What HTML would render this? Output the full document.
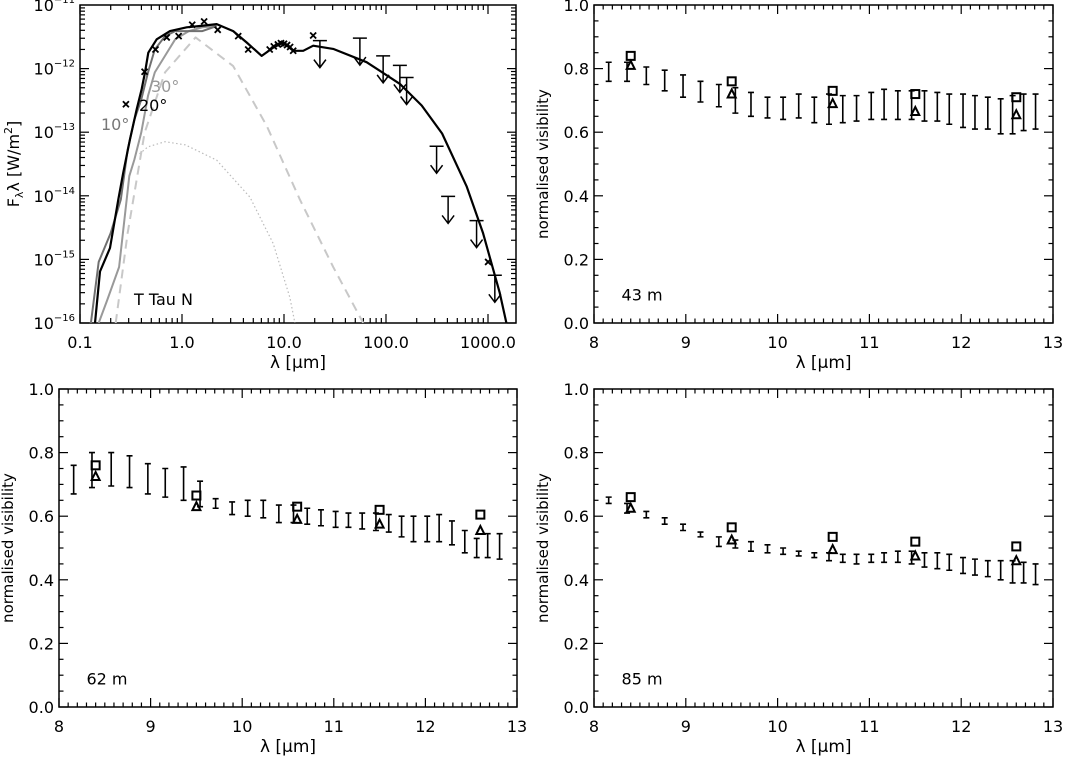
<!DOCTYPE html>
<html><head><meta charset="utf-8">
<style>
html,body{margin:0;padding:0;background:#fff;}
svg{display:block;font-family:"DejaVu Sans","Liberation Sans",sans-serif;}
</style></head>
<body>
<svg id="fig" width="1069" height="758" viewBox="0 0 1069 758" xmlns="http://www.w3.org/2000/svg"></svg>
<script>
// ---------- SED panel data (log10 lambda [um], log10 F [W/m2]) ----------
const sedBlackLogLam = [-0.853,-0.804,-0.706,-0.625,-0.576,-0.51,-0.444,-0.395,-0.363,-0.33,-0.248,-0.118,0.046,0.176,0.34,0.502,0.634,0.781,0.894,0.992,1.09,1.188,1.286,1.482,1.81,2.136,2.35,2.55,2.79,2.952,3.116,3.18];
const sedBlackLogF   = [-16.0,-15.19,-14.82,-14.06,-13.64,-13.11,-12.64,-12.32,-12.06,-11.75,-11.54,-11.41,-11.35,-11.33,-11.30,-11.41,-11.59,-11.80,-11.67,-11.59,-11.72,-11.72,-11.64,-11.69,-11.90,-12.24,-12.58,-13.02,-13.85,-14.59,-15.53,-16.0];
const sed10LogLam = [-0.893,-0.817,-0.70,-0.60,-0.533,-0.467,-0.40,-0.333,-0.267,-0.167,-0.067,0.067,0.20,0.34];
const sed10LogF   = [-16.0,-15.04,-14.59,-14.06,-13.28,-12.80,-12.49,-12.06,-11.70,-11.49,-11.41,-11.41,-11.41,-11.33];
const sed30LogLam = [-0.817,-0.733,-0.617,-0.517,-0.467,-0.40,-0.333,-0.267,-0.167,-0.067,0.067,0.20,0.34];
const sed30LogF   = [-16.0,-15.64,-15.12,-13.69,-13.43,-13.01,-12.43,-12.06,-11.80,-11.54,-11.41,-11.35,-11.33];
const sedDashLogLam = [-0.65,-0.533,-0.367,-0.167,0.133,0.502,0.83,1.156,1.482,1.776];
const sedDashLogF   = [-16.0,-14.59,-13.01,-12.06,-11.51,-11.96,-12.90,-14.06,-15.12,-16.0];
const sedDotLogLam = [-0.417,-0.333,-0.167,0.033,0.34,0.666,0.894,1.058,1.107];
const sedDotLogF   = [-13.34,-13.23,-13.15,-13.20,-13.44,-14.02,-14.75,-15.60,-16.0];
const photLogLam = [-0.55,-0.367,-0.26,-0.15,-0.033,0.10,0.217,0.35,0.551,0.649,1.286,3.001,0.86,0.9,0.94,0.97,1.0,1.03,1.06,1.09];
const photLogF   = [-12.56,-12.05,-11.70,-11.51,-11.49,-11.31,-11.26,-11.39,-11.49,-11.70,-11.48,-15.04,-11.70,-11.65,-11.62,-11.60,-11.61,-11.63,-11.66,-11.72];
const ulLogLam = [1.352,1.744,1.972,2.136,2.202,2.496,2.609,2.888,3.067];
const ulLogF   = [-11.56,-11.52,-11.80,-11.95,-12.14,-13.22,-14.01,-14.39,-15.25];
const sedXTicks = ["0.1","1.0","10.0","100.0","1000.0"];
const sedYTicks = [-11,-12,-13,-14,-15,-16];

// ---------- visibility data ----------
const visLam = [8.16,8.36,8.57,8.77,8.97,9.16,9.36,9.54,9.71,9.89,10.06,10.23,10.40,10.56,10.71,10.86,11.02,11.16,11.31,11.46,11.60,11.74,11.87,12.02,12.15,12.29,12.43,12.56,12.68,12.81];
const v43Hi = [0.82,0.82,0.805,0.795,0.78,0.76,0.75,0.74,0.725,0.71,0.71,0.72,0.71,0.72,0.715,0.715,0.725,0.735,0.73,0.73,0.73,0.725,0.72,0.72,0.715,0.71,0.705,0.715,0.72,0.72];
const v43Lo = [0.76,0.76,0.75,0.73,0.71,0.695,0.68,0.66,0.65,0.645,0.64,0.645,0.63,0.625,0.63,0.635,0.64,0.64,0.64,0.64,0.635,0.635,0.625,0.615,0.61,0.61,0.595,0.595,0.605,0.61];
const v62Hi = [0.76,0.80,0.80,0.79,0.765,0.75,0.755,0.71,0.655,0.645,0.65,0.65,0.635,0.635,0.625,0.62,0.615,0.61,0.61,0.61,0.605,0.60,0.60,0.60,0.605,0.585,0.555,0.53,0.545,0.545];
const v62Lo = [0.67,0.69,0.695,0.69,0.67,0.66,0.65,0.63,0.625,0.605,0.60,0.595,0.58,0.58,0.575,0.57,0.565,0.565,0.56,0.555,0.55,0.535,0.52,0.52,0.52,0.51,0.485,0.47,0.47,0.465];
const v85Hi = [0.66,0.64,0.615,0.595,0.575,0.55,0.535,0.525,0.52,0.51,0.50,0.49,0.485,0.485,0.48,0.48,0.48,0.485,0.49,0.49,0.485,0.485,0.48,0.47,0.465,0.46,0.46,0.46,0.455,0.45];
const v85Lo = [0.64,0.61,0.595,0.575,0.555,0.535,0.505,0.50,0.49,0.485,0.48,0.475,0.47,0.46,0.455,0.45,0.455,0.455,0.455,0.45,0.44,0.435,0.43,0.42,0.415,0.41,0.40,0.39,0.39,0.385];
const modelLam = [8.4,9.5,10.6,11.5,12.6];
const sq43 = [0.84,0.76,0.73,0.72,0.71];
const tr43 = [0.81,0.72,0.69,0.665,0.655];
const sq62 = [0.76,0.665,0.63,0.62,0.605];
const tr62 = [0.725,0.63,0.59,0.575,0.555];
const sq85 = [0.66,0.565,0.535,0.52,0.505];
const tr85 = [0.625,0.525,0.495,0.475,0.46];
const visXTicks = [8,9,10,11,12,13];
const visYTicks = ["0.0","0.2","0.4","0.6","0.8","1.0"];

const NS="http://www.w3.org/2000/svg";
const svg=document.getElementById('fig');
function mk(tag,attrs,parent,txt){const e=document.createElementNS(NS,tag);for(const k in attrs)e.setAttribute(k,attrs[k]);if(txt!==undefined)e.textContent=txt;(parent||svg).appendChild(e);return e;}
function grp(name,parent){const g=mk('g',{},parent);return g;}
const FS=16;

// ---------- SED panel ----------
(function(){
  const L=80,R=516,T=5,B=323;
  const sx=l=>L+(l+1)*102;
  const sy=f=>T+(-11-f)*63.6;
  const g=grp('sed-panel');
  const frame=mk('rect',{x:L,y:T,width:R-L,height:B-T,fill:'none',stroke:'#000','stroke-width':1.5},g);
  
  
  const tk=grp('sed-ticks',g);
  for(let d=-1;d<=3;d++){
    for(let m=1;m<=9;m++){
      const l=d+Math.log10(m); if(l>3.27)continue;
      const x=sx(l),len=m===1?9:5;
      mk('line',{x1:x,y1:B,x2:x,y2:B-len,stroke:'#000','stroke-width':1.2},tk);
      mk('line',{x1:x,y1:T,x2:x,y2:T+len,stroke:'#000','stroke-width':1.2},tk);
    }
  }
  sedXTicks.forEach((s,i)=>{const t=mk('text',{x:sx(i-1),y:B+25,'font-size':FS,'text-anchor':'middle'},g,s);});
  for(let d=-16;d<-11;d++){
    for(let m=1;m<=9;m++){
      const f=d+Math.log10(m),y=sy(f),len=m===1?9:5;
      mk('line',{x1:L,y1:y,x2:L+len,y2:y,stroke:'#000','stroke-width':1.2},tk);
      mk('line',{x1:R,y1:y,x2:R-len,y2:y,stroke:'#000','stroke-width':1.2},tk);
    }
  }
  sedYTicks.forEach(v=>{
    const t=mk('text',{x:L-5,y:sy(v)+6,'font-size':FS,'text-anchor':'end'},g);
    
    
    mk('tspan',{},t,'10');
    mk('tspan',{dy:-8,'font-size':10},t,'\u2212'+(-v));
  });
  const xt=mk('text',{x:(L+R)/2,y:B+45,'font-size':17,'text-anchor':'middle'},g,'\u03bb  [\u03bcm]');
  
  const yt=mk('text',{x:0,y:0,'font-size':16,'text-anchor':'middle',transform:`translate(19,${(T+B)/2}) rotate(-90)`},g);
  
  mk('tspan',{},yt,'F');mk('tspan',{dy:4,'font-size':11},yt,'\u03bb');mk('tspan',{dy:-4},yt,'\u03bb  [W/m');mk('tspan',{dy:-7,'font-size':11},yt,'2');mk('tspan',{dy:7},yt,']');
  const cp=mk('clipPath',{id:'sedclip'},g);mk('rect',{x:L,y:T,width:R-L,height:B-T},cp);
  function curve(name,lx,ly,attrs){const p=mk('path',Object.assign({d:lx.map((l,i)=>(i?'L':'M')+sx(l).toFixed(1)+','+sy(ly[i]).toFixed(1)).join(''),fill:'none','clip-path':'url(#sedclip)','stroke-linejoin':'round'},attrs),g);}
  curve('stellar-dotted-curve',sedDotLogLam,sedDotLogF,{stroke:'#bbb','stroke-width':1.2,'stroke-dasharray':'1.5,2.5'});
  curve('dashed-curve',sedDashLogLam,sedDashLogF,{stroke:'#c8c8c8','stroke-width':2,'stroke-dasharray':'9,6'});
  curve('model-30deg-curve',sed30LogLam,sed30LogF,{stroke:'#999','stroke-width':2});
  curve('model-10deg-curve',sed10LogLam,sed10LogF,{stroke:'#707070','stroke-width':2});
  curve('model-20deg-curve',sedBlackLogLam,sedBlackLogF,{stroke:'#000','stroke-width':2.2});
  const ph=grp('photometry-points',g);
  photLogLam.forEach((l,i)=>{const x=sx(l),y=sy(photLogF[i]);
    mk('path',{d:`M${x-3},${y-3}L${x+3},${y+3}M${x-3},${y+3}L${x+3},${y-3}`,stroke:'#000','stroke-width':1.8,fill:'none'},ph);});
  const ul=grp('upper-limits',g);
  ulLogLam.forEach((l,i)=>{const x=sx(l),y=sy(ulLogF[i]);
    mk('path',{d:`M${x-7},${y}L${x+7},${y}M${x},${y}L${x},${y+27}M${x-6},${y+19}L${x},${y+27}L${x+6},${y+19}`,stroke:'#000','stroke-width':1.5,fill:'none'},ul);});
  function lab(name,x,y,s,c){const t=mk('text',{x:x,y:y,'font-size':16,fill:c},g,s);}
  lab('label-10deg',101,130,'10\u00b0','#777');
  lab('label-30deg',151,92,'30\u00b0','#999');
  lab('label-20deg',139,111,'20\u00b0','#000');
  lab('panel-label-ttau',134,305,'T Tau N','#000');
})();

// ---------- visibility panels ----------
function visPanel(name,L,R,T,B,hi,lo,sq,tr,label){
  const g=grp(name);
  const sx=v=>L+(v-8)/5*(R-L);
  const sy=v=>B-v*(B-T);
  const fr=mk('rect',{x:L,y:T,width:R-L,height:B-T,fill:'none',stroke:'#000','stroke-width':1.5},g);
  
  const tk=grp(name+'-ticks',g);
  for(let i=0;i<=50;i++){const x=L+i*(R-L)/50,len=i%10===0?9:4.5;
    mk('line',{x1:x,y1:B,x2:x,y2:B-len,stroke:'#000','stroke-width':1.2},tk);
    mk('line',{x1:x,y1:T,x2:x,y2:T+len,stroke:'#000','stroke-width':1.2},tk);}
  for(let i=0;i<=20;i++){const y=B-i*(B-T)/20,len=i%4===0?9:4.5;
    mk('line',{x1:L,y1:y,x2:L+len,y2:y,stroke:'#000','stroke-width':1.2},tk);
    mk('line',{x1:R,y1:y,x2:R-len,y2:y,stroke:'#000','stroke-width':1.2},tk);}
  visXTicks.forEach(v=>{const t=mk('text',{x:sx(v),y:B+25,'font-size':FS,'text-anchor':'middle'},g,String(v));});
  visYTicks.forEach(s=>{const t=mk('text',{x:L-5,y:sy(parseFloat(s))+6,'font-size':FS,'text-anchor':'end'},g,s);});
  const xt=mk('text',{x:(L+R)/2,y:B+45,'font-size':17,'text-anchor':'middle'},g,'\u03bb [\u03bcm]');
  
  const yt=mk('text',{x:0,y:0,'font-size':15,'text-anchor':'middle',transform:`translate(${L-46},${(T+B)/2}) rotate(-90)`},g,'normalised visibility');
  
  const eb=grp('error-bars',g);
  visLam.forEach((v,i)=>{const x=sx(v),y1=sy(hi[i]),y2=sy(lo[i]);
    mk('path',{d:`M${x},${y1}L${x},${y2}M${x-3},${y1}L${x+3},${y1}M${x-3},${y2}L${x+3},${y2}`,stroke:'#000','stroke-width':1.6,fill:'none'},eb);});
  const sg=grp('model-squares',g);
  modelLam.forEach((v,i)=>{mk('rect',{x:sx(v)-4,y:sy(sq[i])-4,width:8,height:8,fill:'none',stroke:'#000','stroke-width':2},sg);});
  const tg=grp('model-triangles',g);
  modelLam.forEach((v,i)=>{const x=sx(v),y=sy(tr[i]);mk('path',{d:`M${x-4},${y+3.5}L${x+4},${y+3.5}L${x},${y-4.5}Z`,fill:'none',stroke:'#000','stroke-width':2},tg);});
  const lb=mk('text',{x:sx(8.3),y:sy(0.09)+6,'font-size':16},g,label);
  
}
visPanel('vis-panel-43m',594,1053,5,323,v43Hi,v43Lo,sq43,tr43,'43 m');
visPanel('vis-panel-62m',59,517,389,707,v62Hi,v62Lo,sq62,tr62,'62 m');
visPanel('vis-panel-85m',594,1053,389,707,v85Hi,v85Lo,sq85,tr85,'85 m');
</script>
</body></html>
